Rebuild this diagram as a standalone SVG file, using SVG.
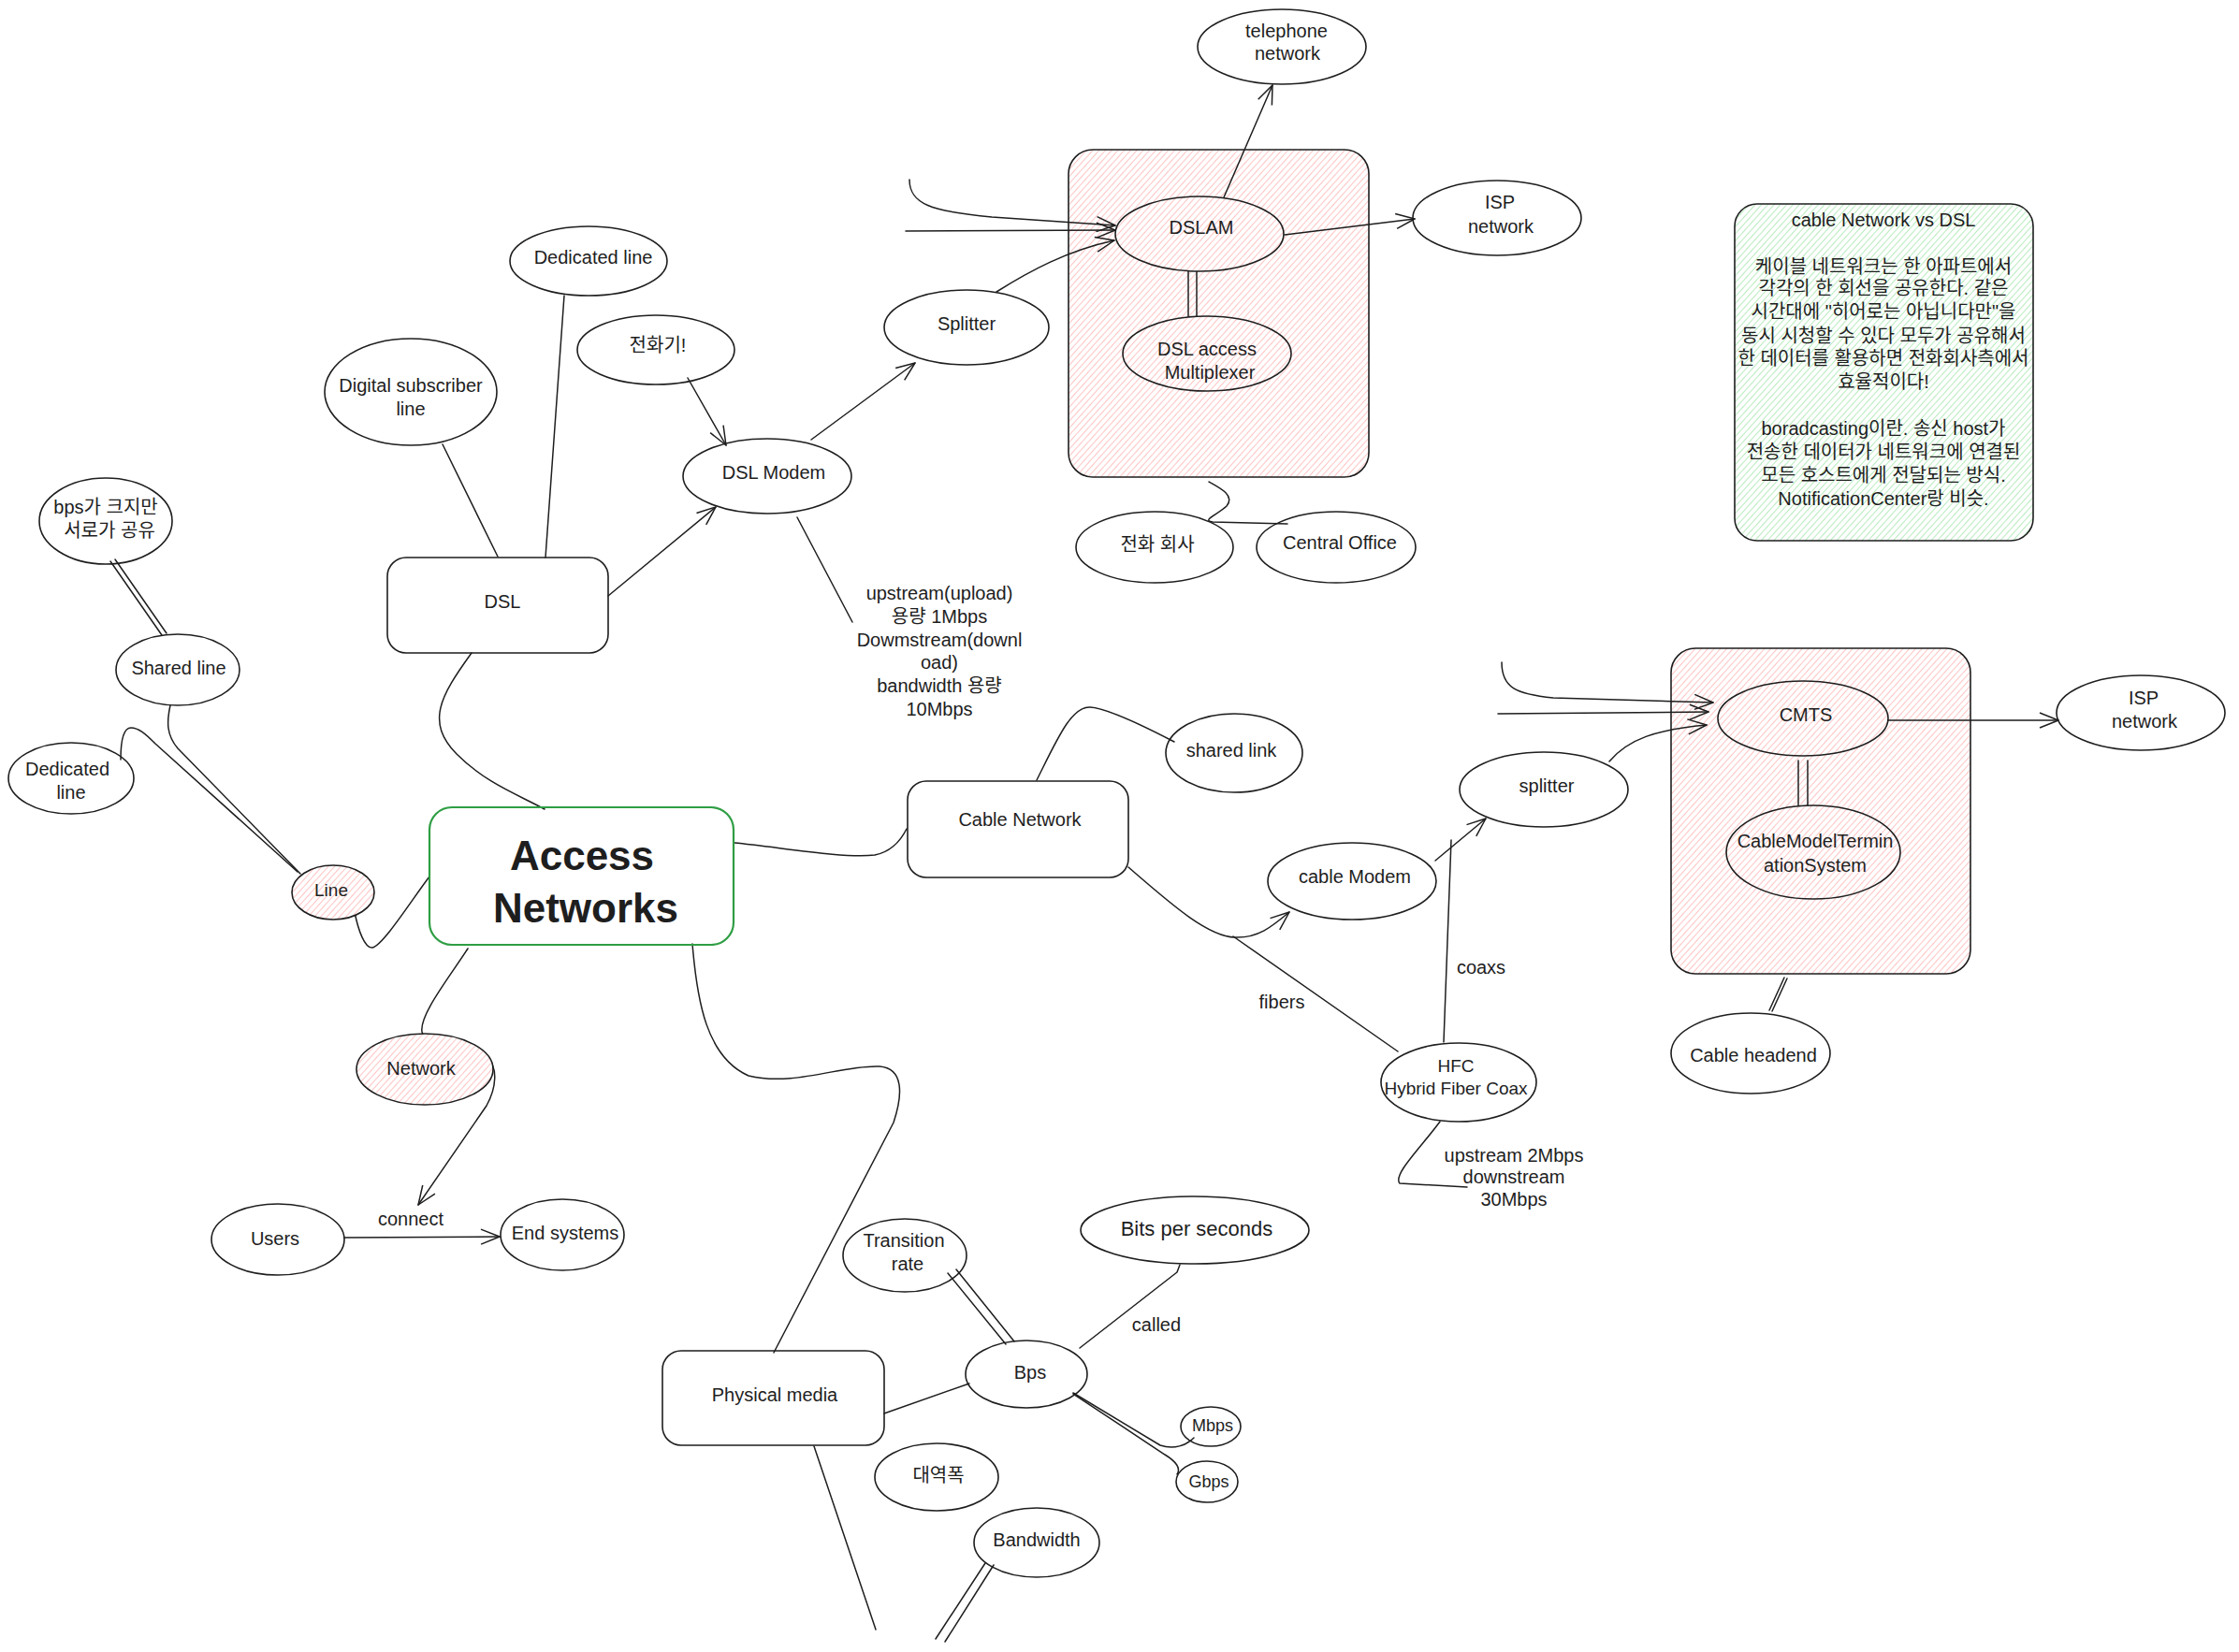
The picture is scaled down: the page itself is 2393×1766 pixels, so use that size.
<svg xmlns="http://www.w3.org/2000/svg" width="2393" height="1766" viewBox="0 0 2393 1766">
<style>
.n{fill:none;stroke:#1e1e1e;stroke-width:1.6}
.c{fill:none;stroke:#1e1e1e;stroke-width:1.5;stroke-linecap:round;stroke-linejoin:round}
.a{marker-end:url(#arr)}
.pk{fill:url(#hpink);stroke:#1e1e1e;stroke-width:1.6}
.gr{fill:url(#hgreen);stroke:#1e1e1e;stroke-width:1.6}
text{font-family:"Liberation Sans","Noto Sans CJK KR",sans-serif;font-size:20px;fill:#1e1e1e;text-anchor:middle;dominant-baseline:central}
.s{font-size:18px}
.m{font-size:19px}
.b{font-size:22px}
.big{font-size:44px;font-weight:bold}
</style>
<defs>
<pattern id="hpink" patternUnits="userSpaceOnUse" width="5" height="5" patternTransform="rotate(42)">
<rect width="5" height="5" fill="#fff"/>
<line x1="0" y1="0" x2="0" y2="5" stroke="#ffb4b4" stroke-width="1.6"/>
</pattern>
<pattern id="hgreen" patternUnits="userSpaceOnUse" width="5" height="5" patternTransform="rotate(42)">
<rect width="5" height="5" fill="#fff"/>
<line x1="0" y1="0" x2="0" y2="5" stroke="#a5e6ae" stroke-width="1.6"/>
</pattern>
<marker id="arr" viewBox="0 0 24 24" refX="22" refY="12" markerWidth="24" markerHeight="24" markerUnits="userSpaceOnUse" orient="auto">
<path d="M2,4 L22,12 L2,20" fill="none" stroke="#1e1e1e" stroke-width="1.5" stroke-linejoin="round"/>
</marker>
</defs>
<rect width="2393" height="1766" fill="#ffffff"/>

<g id="containers">
<g id="dsl-central"><rect x="1142" y="160" width="321" height="350" rx="26" class="pk"/></g>
<g id="cable-headend-box"><rect x="1786" y="693" width="320" height="348" rx="26" class="pk"/></g>
<g id="note"><rect x="1854" y="218" width="319" height="360" rx="24" class="gr"/>
<text x="2013" y="235">cable Network vs DSL</text>
<text x="2013" y="285">케이블 네트워크는 한 아파트에서</text>
<text x="2013" y="308">각각의 한 회선을 공유한다. 같은</text>
<text x="2013" y="333">시간대에 "히어로는 아닙니다만"을</text>
<text x="2013" y="359">동시 시청할 수 있다 모두가 공유해서</text>
<text x="2013" y="383">한 데이터를 활용하면 전화회사측에서</text>
<text x="2013" y="408">효율적이다!</text>
<text x="2013" y="458">boradcasting이란. 송신 host가</text>
<text x="2013" y="483">전송한 데이터가 네트워크에 연결된</text>
<text x="2013" y="508">모든 호스트에게 전달되는 방식.</text>
<text x="2013" y="533">NotificationCenter랑 비슷.</text>
</g>
</g>

<g id="connectors">
<path class="c" d="M504,698 C470,745 455,772 488,806 C520,838 555,850 582,865"/>
<path class="c" d="M603,316 L583,596"/>
<path class="c" d="M473,475 L532,595"/>
<path class="c a" d="M650,637 L765,542"/>
<path class="c a" d="M735,404 L776,476"/>
<path class="c a" d="M867,470 L978,388"/>
<path class="c" d="M852,553 L911,665"/>
<path class="c a" d="M1065,312 C1100,290 1140,268 1191,257"/>
<path class="c a" d="M972,192 C972,218 995,226 1060,232 L1192,241"/>
<path class="c a" d="M968,247 L1192,246"/>
<path class="c a" d="M1308,211 L1360,91"/>
<path class="c a" d="M1373,251 L1512,234"/>
<path class="c" d="M1270,290 L1270,339"/>
<path class="c" d="M1279,290 L1279,338"/>
<path class="c" d="M1292,515 C1305,522 1320,530 1311,541 C1300,551 1284,556 1296,558 L1376,560"/>

<path class="c" d="M118,600 L173,679"/>
<path class="c" d="M123,598 L178,677"/>
<path class="c" d="M182,754 C178,772 178,786 190,800 L321,934"/>
<path class="c" d="M129,812 C129,790 132,778 140,778 C148,778 155,784 166,795 L318,932"/>
<path class="c" d="M379,975 C383,995 390,1014 398,1013 C410,1010 440,962 459,937"/>

<path class="c" d="M785,901 C830,905 900,918 935,914 C955,910 964,896 969,886"/>
<path class="c" d="M1108,834 C1130,790 1145,755 1165,756 C1185,757 1230,780 1255,793"/>
<path class="c a" d="M1206,927 C1250,965 1290,1001 1320,1002 C1345,1003 1360,990 1378,975"/>
<path class="c" d="M1318,1001 L1494,1124"/>
<path class="c a" d="M1534,920 L1588,875"/>
<path class="c" d="M1543,1114 L1551,898"/>
<path class="c" d="M1539,1199 C1520,1225 1488,1256 1496,1265 L1568,1269"/>
<path class="c a" d="M1720,814 C1740,790 1770,780 1824,775"/>
<path class="c a" d="M1605,708 C1605,735 1620,742 1660,746 L1831,751"/>
<path class="c a" d="M1601,763 L1826,761"/>
<path class="c a" d="M2015,770 L2200,770"/>
<path class="c" d="M1922,813 L1922,866"/>
<path class="c" d="M1932,813 L1932,865"/>
<path class="c" d="M1907,1045 L1891,1080"/>
<path class="c" d="M1910,1046 L1894,1081"/>

<path class="c a" d="M500,1014 C480,1045 448,1085 451,1103 C454,1120 500,1125 521,1132 C532,1140 531,1162 520,1182 L447,1288"/>
<path class="c a" d="M368,1323 L534,1322"/>
<path class="c" d="M740,1009 C745,1070 755,1130 800,1150 C850,1162 900,1138 940,1140 C966,1142 965,1170 955,1200 L827,1446"/>
<path class="c" d="M870,1546 L936,1742"/>
<path class="c" d="M945,1511 L1036,1479"/>
<path class="c" d="M1013,1361 L1075,1437"/>
<path class="c" d="M1022,1357 L1084,1434"/>
<path class="c" d="M1154,1441 L1258,1360 L1261,1352"/>
<path class="c" d="M1147,1489 L1240,1545 C1255,1550 1268,1545 1276,1537"/>
<path class="c" d="M1147,1490 L1245,1555 C1258,1563 1262,1570 1258,1576"/>
<path class="c" d="M1053,1671 L1000,1752"/>
<path class="c" d="M1062,1673 L1010,1755"/>

<text x="1004" y="634">upstream(upload)</text>
<text x="1004" y="659">용량 1Mbps</text>
<text x="1004" y="684">Dowmstream(downl</text>
<text x="1004" y="708">oad)</text>
<text x="1004" y="733">bandwidth 용량</text>
<text x="1004" y="758">10Mbps</text>
<text x="1370" y="1071">fibers</text>
<text x="1583" y="1034">coaxs</text>
<text x="1618" y="1235">upstream 2Mbps</text>
<text x="1618" y="1258">downstream</text>
<text x="1618" y="1282">30Mbps</text>
<text x="439" y="1303">connect</text>
<text x="1236" y="1416">called</text>
</g>

<g id="access-networks"><rect x="459" y="863" width="325" height="147" rx="24" fill="none" stroke="#2f9e44" stroke-width="2.2"/>
<text x="622" y="914" class="big">Access</text><text x="626" y="970" class="big">Networks</text></g>
<g id="dsl"><rect x="414" y="596" width="236" height="102" rx="20" class="n"/><text x="537" y="643">DSL</text></g>
<g id="dedicated-line-top"><ellipse cx="629" cy="279" rx="84" ry="37" class="n"/><text x="634" y="275">Dedicated line</text></g>
<g id="digital-subscriber-line"><ellipse cx="439" cy="419" rx="92" ry="57" class="n"/><text x="439" y="412">Digital subscriber</text><text x="439" y="437">line</text></g>
<g id="phone"><ellipse cx="701" cy="374" rx="84" ry="37" class="n"/><text x="703" y="369">전화기!</text></g>
<g id="dsl-modem"><ellipse cx="820" cy="509" rx="90" ry="40" class="n"/><text x="827" y="505">DSL Modem</text></g>
<g id="splitter-dsl"><ellipse cx="1033" cy="350" rx="88" ry="40" class="n"/><text x="1033" y="346">Splitter</text></g>
<g id="dslam"><ellipse cx="1282" cy="250" rx="90" ry="40" class="pk"/><text x="1284" y="243">DSLAM</text></g>
<g id="dsl-access-mux"><ellipse cx="1290" cy="378" rx="90" ry="40" class="pk"/><text x="1290" y="373">DSL access</text><text x="1293" y="398">Multiplexer</text></g>
<g id="telephone-network"><ellipse cx="1370" cy="50" rx="90" ry="40" class="n"/><text x="1375" y="33">telephone</text><text x="1376" y="57">network</text></g>
<g id="isp-network-dsl"><ellipse cx="1600" cy="233" rx="90" ry="40" class="n"/><text x="1603" y="216">ISP</text><text x="1604" y="242">network</text></g>
<g id="phone-company"><ellipse cx="1234" cy="585" rx="84" ry="38" class="n"/><text x="1237" y="582">전화 회사</text></g>
<g id="central-office"><ellipse cx="1428" cy="585" rx="85" ry="38" class="n"/><text x="1432" y="580">Central Office</text></g>

<g id="bps-shared"><ellipse cx="113" cy="557" rx="71" ry="46" class="n"/><text x="113" y="542">bps가 크지만</text><text x="117" y="567">서로가 공유</text></g>
<g id="shared-line"><ellipse cx="190" cy="716" rx="66" ry="38" class="n"/><text x="191" y="714">Shared line</text></g>
<g id="dedicated-line-left"><ellipse cx="76" cy="832" rx="67" ry="38" class="n"/><text x="72" y="822">Dedicated</text><text x="76" y="847">line</text></g>
<g id="line"><ellipse cx="356" cy="954" rx="44" ry="29" class="pk"/><text x="354" y="951" class="m">Line</text></g>

<g id="cable-network"><rect x="970" y="835" width="236" height="103" rx="20" class="n"/><text x="1090" y="876">Cable Network</text></g>
<g id="shared-link"><ellipse cx="1319" cy="805" rx="73" ry="42" class="n"/><text x="1316" y="802">shared link</text></g>
<g id="cable-modem"><ellipse cx="1445" cy="942" rx="90" ry="41" class="n"/><text x="1448" y="937">cable Modem</text></g>
<g id="splitter-cable"><ellipse cx="1650" cy="844" rx="90" ry="40" class="n"/><text x="1653" y="840">splitter</text></g>
<g id="hfc"><ellipse cx="1559" cy="1157" rx="83" ry="42" class="n"/><text x="1556" y="1139" class="m">HFC</text><text x="1556" y="1163" class="m">Hybrid Fiber Coax</text></g>
<g id="cmts"><ellipse cx="1927" cy="768" rx="91" ry="40" class="pk"/><text x="1930" y="764">CMTS</text></g>
<g id="cmts-full"><ellipse cx="1938" cy="911" rx="93" ry="50" class="pk"/><text x="1940" y="899">CableModelTermin</text><text x="1940" y="925">ationSystem</text></g>
<g id="isp-network-cable"><ellipse cx="2288" cy="762" rx="90" ry="40" class="n"/><text x="2291" y="746">ISP</text><text x="2292" y="771">network</text></g>
<g id="cable-headend"><ellipse cx="1871" cy="1126" rx="85" ry="43" class="n"/><text x="1874" y="1128">Cable headend</text></g>

<g id="network"><ellipse cx="454" cy="1143" rx="73" ry="38" class="pk"/><text x="450" y="1142">Network</text></g>
<g id="users"><ellipse cx="297" cy="1325" rx="71" ry="38" class="n"/><text x="294" y="1324">Users</text></g>
<g id="end-systems"><ellipse cx="601" cy="1320" rx="66" ry="38" class="n"/><text x="604" y="1318">End systems</text></g>

<g id="physical-media"><rect x="708" y="1444" width="237" height="101" rx="20" class="n"/><text x="828" y="1491">Physical media</text></g>
<g id="transition-rate"><ellipse cx="967" cy="1342" rx="66" ry="39" class="n"/><text x="966" y="1326">Transition</text><text x="970" y="1351">rate</text></g>
<g id="bps"><ellipse cx="1097" cy="1469" rx="65" ry="36" class="n"/><text x="1101" y="1467">Bps</text></g>
<g id="bits-per-seconds"><ellipse cx="1277" cy="1315" rx="122" ry="36" class="n"/><text x="1279" y="1313" class="b">Bits per seconds</text></g>
<g id="mbps"><ellipse cx="1294" cy="1525" rx="32" ry="21" class="n"/><text x="1296" y="1524" class="s">Mbps</text></g>
<g id="gbps"><ellipse cx="1290" cy="1584" rx="33" ry="22" class="n"/><text x="1292" y="1584" class="s">Gbps</text></g>
<g id="bandwidth-ko"><ellipse cx="1001" cy="1579" rx="66" ry="36" class="n"/><text x="1003" y="1577">대역폭</text></g>
<g id="bandwidth"><ellipse cx="1108" cy="1649" rx="67" ry="37" class="n"/><text x="1108" y="1646">Bandwidth</text></g>
</svg>
